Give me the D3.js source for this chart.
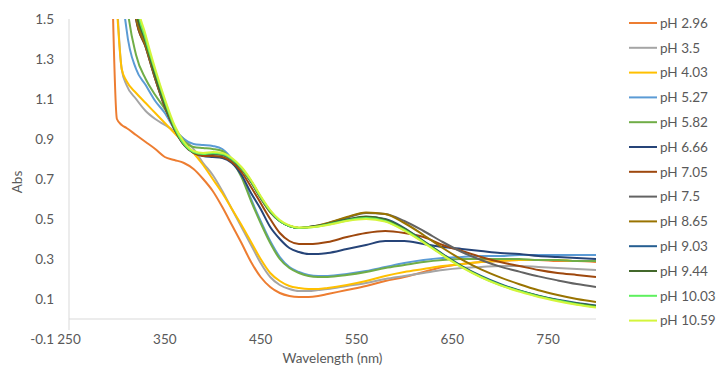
<!DOCTYPE html>
<html>
<head>
<meta charset="utf-8">
<script src="https://cdn.jsdelivr.net/npm/d3@7"></script>
<style>
  html, body { margin: 0; padding: 0; background: #fff; }
  svg { display: block; font-family: Lato, "Open Sans", sans-serif; }
</style>
</head>
<body>
<svg id="chart" width="720" height="366"></svg>
<script>
const wavelengths = [295, 300, 305, 310, 320, 330, 340, 350, 360, 370, 380, 390, 400, 410, 420, 430, 440, 450, 460, 470, 480, 490, 500, 510, 520, 540, 560, 580, 600, 620, 640, 660, 680, 700, 720, 740, 760, 780, 800];

const seriesNames = ["pH 2.96", "pH 3.5", "pH 4.03", "pH 5.27", "pH 5.82", "pH 6.66", "pH 7.05", "pH 7.5", "pH 8.65", "pH 9.03", "pH 9.44", "pH 10.03", "pH 10.59"];
const seriesColors = ["#ed7d31", "#a5a5a5", "#ffc000", "#5b9bd5", "#70ad47", "#264478", "#9e480e", "#636363", "#997300", "#255e91", "#43682b", "#5ef05e", "#d4f53c"];

const ph296 = [1.7, 1.0, 0.97, 0.955, 0.92, 0.885, 0.85, 0.81, 0.795, 0.78, 0.75, 0.7, 0.64, 0.56, 0.47, 0.38, 0.285, 0.21, 0.16, 0.13, 0.115, 0.11, 0.11, 0.115, 0.125, 0.145, 0.165, 0.19, 0.21, 0.235, 0.26, 0.275, 0.285, 0.29, 0.295, 0.295, 0.29, 0.29, 0.285];
const ph35 = [2.2, 1.6, 1.25, 1.17, 1.1, 1.04, 1.0, 0.97, 0.94, 0.9, 0.85, 0.78, 0.72, 0.64, 0.55, 0.46, 0.37, 0.28, 0.21, 0.17, 0.15, 0.14, 0.14, 0.145, 0.15, 0.165, 0.18, 0.2, 0.215, 0.23, 0.245, 0.255, 0.26, 0.265, 0.265, 0.26, 0.255, 0.25, 0.245];
const ph403 = [1.9, 1.55, 1.25, 1.19, 1.13, 1.08, 1.03, 0.98, 0.93, 0.88, 0.83, 0.77, 0.7, 0.63, 0.55, 0.47, 0.385, 0.3, 0.23, 0.19, 0.165, 0.155, 0.15, 0.15, 0.155, 0.17, 0.19, 0.215, 0.235, 0.25, 0.265, 0.275, 0.285, 0.29, 0.295, 0.295, 0.295, 0.29, 0.29];
const ph527 = [3, 2.5, 1.7, 1.45, 1.25, 1.17, 1.09, 1.03, 0.95, 0.9, 0.875, 0.87, 0.865, 0.85, 0.8, 0.72, 0.6, 0.49, 0.39, 0.31, 0.26, 0.235, 0.22, 0.215, 0.215, 0.225, 0.24, 0.26, 0.28, 0.295, 0.305, 0.31, 0.315, 0.315, 0.32, 0.32, 0.32, 0.32, 0.32];
const ph582 = [3, 2.6, 1.9, 1.6, 1.32, 1.2, 1.12, 1.05, 0.96, 0.89, 0.86, 0.855, 0.85, 0.84, 0.79, 0.71, 0.59, 0.48, 0.38, 0.3, 0.255, 0.23, 0.215, 0.21, 0.21, 0.22, 0.235, 0.255, 0.27, 0.285, 0.295, 0.3, 0.3, 0.3, 0.3, 0.295, 0.295, 0.29, 0.29];
const ph666 = [3, 3, 2.5, 2.05, 1.5, 1.36, 1.2, 1.06, 0.95, 0.87, 0.83, 0.815, 0.81, 0.805, 0.78, 0.72, 0.63, 0.55, 0.46, 0.4, 0.355, 0.335, 0.325, 0.325, 0.33, 0.35, 0.37, 0.39, 0.39, 0.375, 0.36, 0.35, 0.34, 0.33, 0.325, 0.315, 0.31, 0.305, 0.3];
const ph705 = [3, 3, 2.5, 2.05, 1.5, 1.36, 1.2, 1.06, 0.95, 0.87, 0.83, 0.815, 0.815, 0.81, 0.785, 0.735, 0.66, 0.58, 0.5, 0.43, 0.39, 0.375, 0.375, 0.378, 0.385, 0.41, 0.43, 0.44, 0.43, 0.41, 0.37, 0.34, 0.31, 0.285, 0.265, 0.245, 0.23, 0.22, 0.21];
const ph75 = [3, 3, 2.5, 2.05, 1.52, 1.37, 1.21, 1.07, 0.955, 0.875, 0.835, 0.825, 0.825, 0.82, 0.795, 0.75, 0.685, 0.605, 0.535, 0.49, 0.465, 0.455, 0.46, 0.467, 0.478, 0.507, 0.53, 0.525, 0.49, 0.44, 0.385, 0.335, 0.295, 0.262, 0.237, 0.213, 0.193, 0.175, 0.16];
const ph865 = [3, 3, 2.5, 2.05, 1.52, 1.37, 1.21, 1.07, 0.955, 0.875, 0.835, 0.825, 0.825, 0.82, 0.795, 0.75, 0.685, 0.605, 0.535, 0.49, 0.465, 0.455, 0.46, 0.468, 0.48, 0.51, 0.533, 0.525, 0.48, 0.42, 0.355, 0.297, 0.248, 0.208, 0.174, 0.144, 0.12, 0.1, 0.085];
const ph903 = [3, 3, 2.6, 2.1, 1.55, 1.39, 1.22, 1.075, 0.955, 0.875, 0.835, 0.825, 0.828, 0.822, 0.798, 0.753, 0.688, 0.608, 0.538, 0.49, 0.465, 0.455, 0.46, 0.465, 0.475, 0.497, 0.51, 0.5, 0.455, 0.39, 0.325, 0.265, 0.215, 0.175, 0.143, 0.117, 0.096, 0.08, 0.068];
const ph944 = [3, 3, 2.6, 2.1, 1.55, 1.39, 1.22, 1.075, 0.955, 0.875, 0.835, 0.825, 0.83, 0.825, 0.8, 0.755, 0.69, 0.61, 0.54, 0.49, 0.465, 0.455, 0.46, 0.465, 0.475, 0.497, 0.512, 0.498, 0.452, 0.388, 0.322, 0.262, 0.212, 0.172, 0.141, 0.115, 0.094, 0.077, 0.065];
const ph1003 = [3, 3, 2.7, 2.2, 1.6, 1.4, 1.24, 1.09, 0.96, 0.875, 0.835, 0.825, 0.83, 0.825, 0.8, 0.755, 0.69, 0.61, 0.54, 0.49, 0.465, 0.455, 0.458, 0.463, 0.472, 0.493, 0.505, 0.49, 0.445, 0.385, 0.32, 0.26, 0.21, 0.17, 0.14, 0.113, 0.092, 0.074, 0.06];
const ph1059 = [3, 3, 2.7, 2.2, 1.62, 1.42, 1.25, 1.1, 0.97, 0.885, 0.84, 0.83, 0.835, 0.83, 0.805, 0.76, 0.695, 0.615, 0.545, 0.495, 0.468, 0.457, 0.458, 0.462, 0.47, 0.49, 0.5, 0.487, 0.442, 0.382, 0.318, 0.258, 0.208, 0.168, 0.137, 0.11, 0.089, 0.071, 0.057];

const seriesValues = [ph296, ph35, ph403, ph527, ph582, ph666, ph705, ph75, ph865, ph903, ph944, ph1003, ph1059];

const xTicks = [250, 350, 450, 550, 650, 750];
const yTicks = [-0.1, 0.1, 0.3, 0.5, 0.7, 0.9, 1.1, 1.3, 1.5];

const svg = d3.select("#chart");
const textColor = "#595959";
const axisColor = "#d9d9d9";

const x = d3.scaleLinear().domain([250, 800]).range([69, 596]);
const y = d3.scaleLinear().domain([-0.1, 1.5]).range([339, 19]);

svg.append("defs").append("clipPath").attr("id", "plot-clip")
  .append("rect")
  .attr("x", x(250)).attr("y", y(1.5))
  .attr("width", x(800) - x(250)).attr("height", y(-0.1) - y(1.5));

// axis lines
svg.append("line")
  .attr("x1", x(250)).attr("x2", x(250))
  .attr("y1", y(1.5)).attr("y2", y(-0.055))
  .attr("stroke", axisColor).attr("stroke-width", 1);
svg.append("line")
  .attr("x1", x(250)).attr("x2", x(800))
  .attr("y1", y(0)).attr("y2", y(0))
  .attr("stroke", axisColor).attr("stroke-width", 1);

// y tick labels
svg.append("g")
  .selectAll("text")
  .data(yTicks)
  .join("text")
  .attr("x", 54)
  .attr("y", (d) => y(d))
  .attr("dy", "0.35em")
  .attr("text-anchor", "end")
  .attr("font-size", 13.5)
  .attr("fill", textColor)
  .text((d) => d.toFixed(1));

// x tick labels
svg.append("g")
  .selectAll("text")
  .data(xTicks)
  .join("text")
  .attr("x", (d) => x(d))
  .attr("y", y(-0.1))
  .attr("dy", "0.35em")
  .attr("text-anchor", "middle")
  .attr("font-size", 13.5)
  .attr("fill", textColor)
  .text((d) => d);

svg.append("text")
  .attr("x", (x(250) + x(800)) / 2)
  .attr("y", 363)
  .attr("text-anchor", "middle")
  .attr("font-size", 13.5)
  .attr("fill", textColor)
  .text("Wavelength (nm)");

svg.append("text")
  .attr("transform", `translate(22,${(y(1.5) + y(-0.1)) / 2 + 3}) rotate(-90)`)
  .attr("text-anchor", "middle")
  .attr("font-size", 13.5)
  .attr("fill", textColor)
  .text("Abs");

const line = d3.line()
  .x((d, i) => x(wavelengths[i]))
  .y((d) => y(d))
  .curve(d3.curveMonotoneX);

svg.append("g")
  .attr("clip-path", "url(#plot-clip)")
  .selectAll("path")
  .data(seriesValues)
  .join("path")
  .attr("fill", "none")
  .attr("stroke", (d, i) => seriesColors[i])
  .attr("stroke-width", 2)
  .attr("stroke-linejoin", "round")
  .attr("d", line);

// legend
const legend = svg.append("g")
  .selectAll("g")
  .data(seriesNames)
  .join("g")
  .attr("transform", (d, i) => `translate(0,${23 + i * 24.8})`);

legend.append("line")
  .attr("x1", 629).attr("x2", 657)
  .attr("stroke", (d, i) => seriesColors[i])
  .attr("stroke-width", 2);

legend.append("text")
  .attr("x", 660)
  .attr("dy", "0.35em")
  .attr("font-size", 13.5)
  .attr("fill", textColor)
  .text((d) => d);
</script>
</body>
</html>
